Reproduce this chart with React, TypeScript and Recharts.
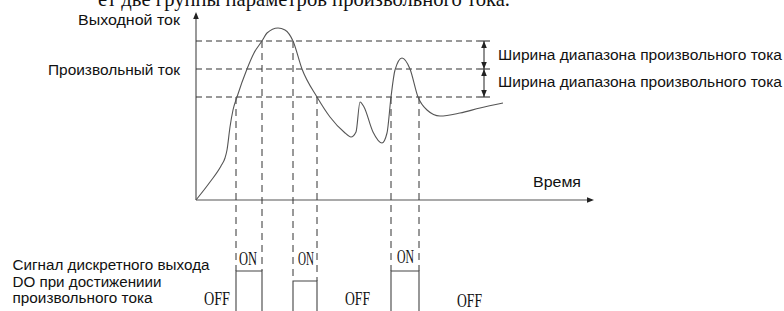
import React from 'react';
import { ComposedChart, Line, XAxis, YAxis, ReferenceLine, Scatter } from 'recharts';

// Coordinate system: time (t) measured from the axis origin, current (I) upward.
const curveTime = [0, 14, 25, 29, 31, 34, 37, 41, 51, 58, 66, 71, 82, 89, 97, 106, 121, 134, 148, 155, 160, 164, 168, 177, 186, 191, 195, 199, 206, 214, 222, 231, 244, 264, 284, 307];
const curveCurrent = [0, 18, 34, 42, 50, 73, 90, 103, 131, 147, 159, 167, 172, 170, 159, 131, 103, 83, 68, 63, 68, 98, 93, 68, 57, 67, 103, 130, 142, 131, 103, 90, 84, 87, 92, 97];

const upperLevel = 159;
const arbitraryLevel = 131;
const lowerLevel = 103;

const crossTimes = [40, 66, 97, 121, 195, 223];
const crossLevels = [lowerLevel, upperLevel, upperLevel, lowerLevel, lowerLevel, lowerLevel];

const pulseStart = [40, 97, 195];
const pulseEnd = [66, 121, 223];
const pulseOn = [-71, -81, -71];
const signalOff = -140;

const bandEnd = 288;
const tickStart = 282;
const tickEnd = 294;
const axisTimeEnd = 398;
const axisCurrentEnd = 188;

const X_DOMAIN: [number, number] = [-196, 588];
const Y_DOMAIN: [number, number] = [-111, 200];

const curveData = curveTime.map((t, i) => ({ t, I: curveCurrent[i] }));

const signalData: { t: number; I: number }[] = [];
pulseStart.forEach((s, i) => {
  signalData.push({ t: s, I: signalOff });
  signalData.push({ t: s, I: pulseOn[i] });
  signalData.push({ t: pulseEnd[i], I: pulseOn[i] });
  signalData.push({ t: pulseEnd[i], I: signalOff });
});

const arrowHeads = [
  { t: bandEnd, I: upperLevel, dir: 'up' },
  { t: bandEnd, I: arbitraryLevel, dir: 'down' },
  { t: bandEnd, I: arbitraryLevel, dir: 'up' },
  { t: bandEnd, I: lowerLevel, dir: 'down' },
  { t: 0, I: axisCurrentEnd, dir: 'up' },
  { t: axisTimeEnd, I: 0, dir: 'right' },
];

const ArrowShape = (props: any) => {
  const { cx, cy, payload } = props;
  const L = 7;
  const w = 2.8;
  let pts = '';
  if (payload.dir === 'up') pts = `${cx},${cy} ${cx - w},${cy + L} ${cx + w},${cy + L}`;
  else if (payload.dir === 'down') pts = `${cx},${cy} ${cx - w},${cy - L} ${cx + w},${cy - L}`;
  else pts = `${cx},${cy} ${cx - L},${cy - w} ${cx - L},${cy + w}`;
  return <polygon points={pts} fill="#222" />;
};

const sans = "'Liberation Sans', Arial, sans-serif";
const serif = "'Liberation Serif', 'Times New Roman', serif";

const labels = [
  { text: 'Выходной ток', x: 78, y: 25, w: 102, font: sans, size: 14 },
  { text: 'Произвольный ток', x: 48, y: 74.5, w: 132, font: sans, size: 14 },
  { text: 'Ширина диапазона произвольного тока', x: 498, y: 60, w: 284, font: sans, size: 14 },
  { text: 'Ширина диапазона произвольного тока', x: 498, y: 87, w: 284, font: sans, size: 14 },
  { text: 'Время', x: 533, y: 186.5, w: 48, font: sans, size: 14 },
  { text: 'Сигнал дискретного выхода', x: 12.5, y: 270, w: 197, font: sans, size: 14 },
  { text: 'DO при достижениии', x: 12.5, y: 286.5, w: 149, font: sans, size: 14 },
  { text: 'произвольного тока', x: 12.5, y: 303, w: 140, font: sans, size: 14 },
  { text: 'ON', x: 239, y: 265, w: 18, font: serif, size: 18 },
  { text: 'ON', x: 298, y: 265, w: 16, font: serif, size: 18 },
  { text: 'ON', x: 397, y: 263, w: 17, font: serif, size: 18 },
  { text: 'OFF', x: 204, y: 305, w: 26, font: serif, size: 19 },
  { text: 'OFF', x: 345, y: 305, w: 25, font: serif, size: 19 },
  { text: 'OFF', x: 457, y: 307, w: 25, font: serif, size: 19 },
  { text: 'ет две группы параметров произвольного тока.', x: 98, y: 5.5, w: 412, font: serif, size: 21 },
];

const dash = '6 4';
const vdash = '7 5';

export default function App() {
  return (
    <div style={{ position: 'absolute', left: 0, top: 0, width: 784, height: 311, background: '#fff', overflow: 'hidden' }}>
      <ComposedChart width={784} height={311} margin={{ top: 0, right: 0, bottom: 0, left: 0 }}>
        <XAxis type="number" dataKey="t" domain={X_DOMAIN} hide allowDataOverflow />
        <YAxis type="number" dataKey="I" domain={Y_DOMAIN} hide allowDataOverflow />
        {/* axes */}
        <ReferenceLine segment={[{ x: 0, y: 0 }, { x: 0, y: axisCurrentEnd - 2 }]} stroke="#555" strokeWidth={1.2} />
        <ReferenceLine segment={[{ x: 0, y: 0 }, { x: axisTimeEnd - 2, y: 0 }]} stroke="#555" strokeWidth={1.2} />
        {/* horizontal threshold lines */}
        {[upperLevel, arbitraryLevel, lowerLevel].map((lv, i) => (
          <ReferenceLine key={'h' + i} segment={[{ x: 0, y: lv }, { x: tickStart, y: lv }]} stroke="#333" strokeDasharray={dash} />
        ))}
        {[upperLevel, arbitraryLevel, lowerLevel].map((lv, i) => (
          <ReferenceLine key={'tk' + i} segment={[{ x: tickStart, y: lv }, { x: tickEnd, y: lv }]} stroke="#222" />
        ))}
        <ReferenceLine segment={[{ x: bandEnd, y: upperLevel }, { x: bandEnd, y: lowerLevel }]} stroke="#222" />
        {/* vertical crossing lines */}
        {crossTimes.map((t, i) => (
          <ReferenceLine
            key={'v' + i}
            segment={[{ x: t, y: crossLevels[i] }, { x: t, y: pulseOn[Math.floor(i / 2)] }]}
            stroke="#333"
            strokeDasharray={vdash}
          />
        ))}
        <Line data={curveData} dataKey="I" type="monotone" dot={false} stroke="#555" strokeWidth={1.1} isAnimationActive={false} />
        <Line data={signalData} dataKey="I" type="linear" dot={false} stroke="#444" strokeWidth={1.1} isAnimationActive={false} />
        <Scatter data={arrowHeads} dataKey="I" shape={ArrowShape} isAnimationActive={false} />
      </ComposedChart>
      <svg width={784} height={311} style={{ position: 'absolute', left: 0, top: 0 }}>
        {labels.map((l, i) => (
          <text
            key={i}
            x={l.x}
            y={l.y}
            fontFamily={l.font}
            fontSize={l.size}
            fill="#111"
            textLength={l.w}
            lengthAdjust="spacingAndGlyphs"
          >
            {l.text}
          </text>
        ))}
      </svg>
    </div>
  );
}
